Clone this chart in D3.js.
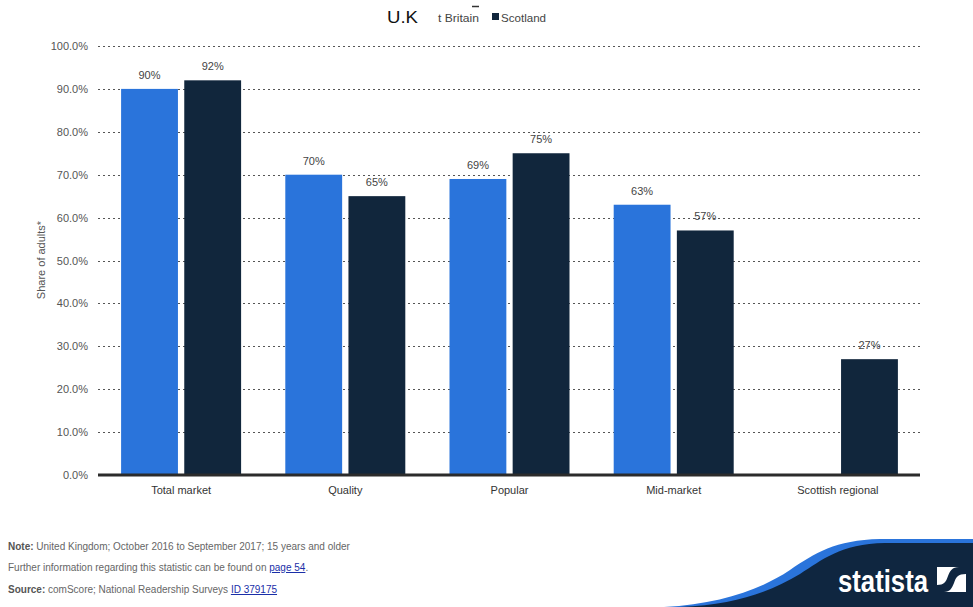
<!DOCTYPE html>
<html>
<head>
<meta charset="utf-8">
<script src="https://cdn.jsdelivr.net/npm/d3@7"></script>
<style>
  html, body { margin: 0; padding: 0; background: #fff; }
  svg { display: block; font-family: "Liberation Sans", Arial, sans-serif; }
</style>
</head>
<body>
<svg id="chart" width="973" height="607"></svg>
<script>
// Readership reach by newspaper market segment
const categories = ["Total market", "Quality", "Popular", "Mid-market", "Scottish regional"];
const seriesNames = ["Great Britain", "Scotland"];
const greatBritain = [90, 70, 69, 63, null];
const scotland = [92, 65, 75, 57, 27];
const yTicks = [0, 10, 20, 30, 40, 50, 60, 70, 80, 90, 100];

const colors = { "Great Britain": "#2a74db", "Scotland": "#11263c" };

const svg = d3.select("#chart");
const plotLeft = 98, plotRight = 920, plotTop = 46, plotBottom = 475;

const x = d3.scaleBand().domain(categories).range([plotLeft + 1, plotRight]).padding(0);
const inner = d3.scaleBand().domain(seriesNames)
  .range([x.bandwidth() / 2 - 60, x.bandwidth() / 2 + 60]).paddingInner(0.1);
const y = d3.scaleLinear().domain([0, 100]).range([plotBottom, plotTop]);

// dotted gridlines
svg.append("g").selectAll("line").data(yTicks.filter(d => d > 0)).join("line")
  .attr("x1", plotLeft).attr("x2", plotRight)
  .attr("y1", d => Math.round(y(d)) + 0.5).attr("y2", d => Math.round(y(d)) + 0.5)
  .attr("stroke", "#555").attr("stroke-width", 1).attr("stroke-dasharray", "2,3");

// y axis labels
const yAxis = d3.axisLeft(y).tickValues(yTicks).tickFormat(d => d.toFixed(1) + "%").tickSize(0).tickPadding(10);
const yg = svg.append("g").attr("transform", `translate(${plotLeft},0)`).call(yAxis);
yg.select(".domain").remove();
yg.selectAll("text").attr("font-size", 11).attr("fill", "#555")
  .attr("font-family", "Liberation Sans, Arial, sans-serif");

svg.append("text")
  .attr("transform", "translate(45,260) rotate(-90)")
  .attr("text-anchor", "middle").attr("font-size", 11).attr("fill", "#555")
  .text("Share of adults*");

// bars
const rows = categories.map((c, i) => ({
  category: c,
  values: [
    { series: "Great Britain", value: greatBritain[i] },
    { series: "Scotland", value: scotland[i] }
  ].filter(v => v.value != null)
}));

const groups = svg.append("g").selectAll("g").data(rows).join("g")
  .attr("transform", d => `translate(${x(d.category)},0)`);

groups.selectAll("rect").data(d => d.values).join("rect")
  .attr("x", d => inner(d.series))
  .attr("width", inner.bandwidth())
  .attr("y", d => y(d.value))
  .attr("height", d => y(0) - y(d.value))
  .attr("fill", d => colors[d.series]);

groups.selectAll("text.val").data(d => d.values).join("text")
  .attr("class", "val")
  .attr("x", d => inner(d.series) + inner.bandwidth() / 2)
  .attr("y", d => y(d.value) - 10)
  .attr("text-anchor", "middle").attr("font-size", 11).attr("fill", "#444")
  .text(d => d.value + "%");

// baseline
svg.append("line").attr("x1", plotLeft).attr("x2", plotRight)
  .attr("y1", y(0)).attr("y2", y(0))
  .attr("stroke", "#2b2b2b").attr("stroke-width", 3);

// category labels
const xAxis = d3.axisBottom(x).tickSize(0).tickPadding(10);
const xg = svg.append("g").attr("transform", `translate(0,${plotBottom + 1})`).call(xAxis);
xg.select(".domain").remove();
xg.selectAll("text").attr("font-size", 11).attr("fill", "#333")
  .attr("font-family", "Liberation Sans, Arial, sans-serif");

// legend
const legend = svg.append("g");
legend.append("text").attr("x", 387).attr("y", 23)
  .attr("font-size", 17).attr("fill", "#111")
  .attr("textLength", 31).attr("lengthAdjust", "spacingAndGlyphs")
  .text("U.K");
legend.append("text").attr("x", 438).attr("y", 22)
  .attr("font-size", 11).attr("fill", "#444")
  .attr("textLength", 41).attr("lengthAdjust", "spacingAndGlyphs")
  .text("t Britain");
legend.append("line").attr("x1", 472).attr("x2", 479).attr("y1", 6.5).attr("y2", 6.5)
  .attr("stroke", "#333").attr("stroke-width", 1.5);
legend.append("rect").attr("x", 492).attr("y", 13).attr("width", 7).attr("height", 7)
  .attr("fill", colors["Scotland"]);
legend.append("text").attr("x", 501).attr("y", 22)
  .attr("font-size", 11).attr("fill", "#444")
  .attr("textLength", 45).attr("lengthAdjust", "spacingAndGlyphs")
  .text("Scotland");

// notes
const notes = svg.append("g").attr("font-size", 10).attr("fill", "#666");
const n1 = notes.append("text").attr("x", 8).attr("y", 550);
n1.append("tspan").attr("font-weight", "bold").attr("fill", "#555").text("Note:");
n1.append("tspan").text(" United Kingdom; October 2016 to September 2017; 15 years and older");
const n2 = notes.append("text").attr("x", 8).attr("y", 571);
n2.append("tspan").text("Further information regarding this statistic can be found on ");
n2.append("tspan").attr("fill", "#1a2fa8").attr("text-decoration", "underline").text("page 54");
n2.append("tspan").text(".");
const n3 = notes.append("text").attr("x", 8).attr("y", 593);
n3.append("tspan").attr("font-weight", "bold").attr("fill", "#555").text("Source:");
n3.append("tspan").text(" comScore; National Readership Surveys ");
n3.append("tspan").attr("fill", "#1a2fa8").attr("text-decoration", "underline").text("ID 379175");

// brand wave
const brand = svg.append("g");
brand.append("path")
  .attr("d", "M664,607 C720,604 760,590 790,570 C815,553 835,540 880,539 L973,539 L973,607 Z")
  .attr("fill", "#2a74db");
brand.append("path")
  .attr("d", "M680,607 C735,605 770,592 800,574 C822,560 840,544 885,543 L973,543 L973,607 Z")
  .attr("fill", "#0f2640");
brand.append("text").attr("x", 838).attr("y", 592)
  .attr("font-size", 31).attr("font-weight", "bold").attr("fill", "#fff")
  .attr("textLength", 90).attr("lengthAdjust", "spacingAndGlyphs")
  .text("statista");
brand.append("rect").attr("x", 937).attr("y", 567).attr("width", 29).attr("height", 25).attr("fill", "#fff");
brand.append("path")
  .attr("d", "M937,592 L944,592 C950,592 952,588 954,583 C956,577 958,574 966,574 L966,567 L959,567 C952,567 950,571 948,576 C946,582 944,585 937,585 Z")
  .attr("fill", "#0f2640");
</script>
</body>
</html>
